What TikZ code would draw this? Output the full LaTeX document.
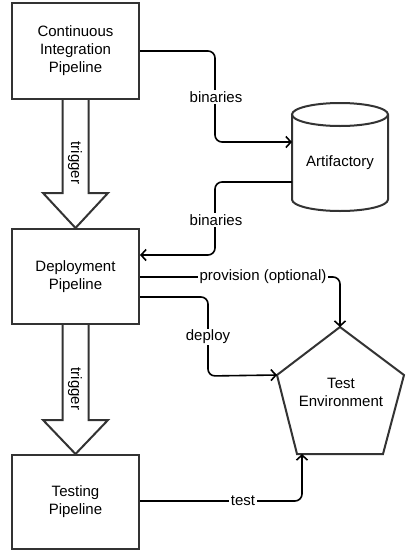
\documentclass[tikz,border=0pt]{standalone}
\usepackage{fontspec}
\setmainfont{Liberation Sans}
\usetikzlibrary{arrows.meta}
\begin{document}
\begin{tikzpicture}[x=1pt,y=-1pt,
  font=\fontsize{15}{18}\selectfont,
  box/.style={draw=black!80, line width=2pt, fill=white, align=center, inner sep=0pt},
  outl/.style={draw=black!80, line width=2pt},
  conn/.style={draw=black, line width=1.6pt, rounded corners=7pt, -{Straight Barb[length=5pt,width=11pt,line width=1.6pt]}},
  lbl/.style={fill=white, inner sep=1.5pt}]
\fill[white] (0,0) rectangle (415,560);
\useasboundingbox (0,0) rectangle (415,560);

% boxes
\node[box, minimum width=127pt, minimum height=96pt] (ci) at (75.5,51) {Continuous\\Integration\\Pipeline};
\node[box, minimum width=127pt, minimum height=95pt] (dep) at (75.5,276.5) {Deployment\\Pipeline};
\node[box, minimum width=127pt, minimum height=94pt] (tst) at (75.5,502) {Testing\\Pipeline};

% trigger arrows
\draw[outl, fill=white, line join=miter]
  ([xshift=-13pt]ci.south) -- ([xshift=-13pt]ci.south |- 0,193) -- (43,193)
  -- (dep.north) -- (108,193) -- ([xshift=13pt]ci.south |- 0,193) -- ([xshift=13pt]ci.south);
\node[rotate=-90] (t1) at (75,163) {trigger};
\draw[outl, fill=white, line join=miter]
  ([xshift=-13pt]dep.south) -- ([xshift=-13pt]dep.south |- 0,420) -- (43,420)
  -- (tst.north) -- (108,420) -- ([xshift=13pt]dep.south |- 0,420) -- ([xshift=13pt]dep.south);
\node[rotate=-90] (t2) at (75,389) {trigger};

% cylinder
\draw[outl, fill=white] (292,114.5) -- (292,199.5) arc[start angle=180, end angle=360, x radius=48, y radius=-11.5] -- (388,114.5);
\draw[outl] (340,114.5) ellipse[x radius=48, y radius=11.5];
\node (art) at (340,163) {Artifactory};
\coordinate (artin) at (292,142);
\coordinate (artout) at (292,182);

% pentagon
\coordinate (ptop) at (340,327);
\coordinate (pl) at (277,375);
\coordinate (pr) at (404,375);
\coordinate (pbl) at (297,454);
\coordinate (pbr) at (383,454);
\draw[outl, fill=white, line join=miter] (ptop) -- (pr) -- (pbr) -- (pbl) -- (pl) -- cycle;
\node[align=center] (te) at (341,392) {Test\\Environment};
\coordinate (ptest) at (302,454);

% connectors
\draw[conn] (ci.east |- 0,51) -- (215,51) -- (215,142) -- (artin);
\node[lbl] (b1) at (216,97) {binaries};
\draw[conn] (artout) -- (215,182) -- (215,255) -- (dep.east |- 0,255);
\node[lbl] (b2) at (216,220) {binaries};
\draw[conn] (dep.east |- 0,277) -- (340,277) -- (ptop);
\node[lbl] (prov) at (263,277) {provision (optional)};
\draw[conn] (dep.east |- 0,297) -- (208,297) -- (208,376) -- (pl);
\node[lbl] (dp) at (208,337) {deploy};
\draw[conn] (tst.east |- 0,501) -- (302,501) -- (ptest);
\node[lbl] (ts) at (243,501) {test};
\end{tikzpicture}
\end{document}
